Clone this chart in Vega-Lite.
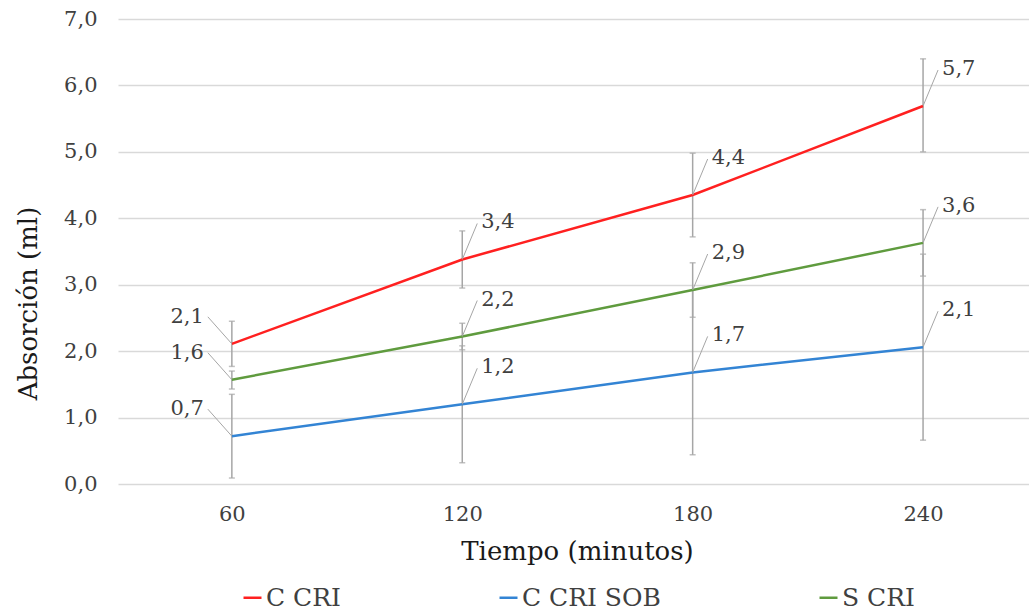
{
  "$schema": "https://vega.github.io/schema/vega-lite/v6.json",
  "width": 911,
  "height": 465,
  "autosize": {"type": "none"},
  "padding": {"left": 118, "top": 19, "right": 0, "bottom": 130},
  "background": "white",
  "config": {
    "font": "DejaVu Serif",
    "view": {"stroke": null},
    "axis": {"labelFont": "DejaVu Serif", "titleFont": "DejaVu Serif", "labelColor": "#404040", "titleColor": "#1a1a1a", "titleFontWeight": "normal"},
    "legend": {"labelFont": "DejaVu Serif"}
  },
  "data": {
    "values": [
      {"Serie": "C CRI", "Tiempo": "60", "Valor": 2.11, "Inf": 1.77, "Sup": 2.45, "Etiqueta": "2,1"},
      {"Serie": "C CRI", "Tiempo": "120", "Valor": 3.38, "Inf": 2.95, "Sup": 3.81, "Etiqueta": "3,4"},
      {"Serie": "C CRI", "Tiempo": "180", "Valor": 4.35, "Inf": 3.72, "Sup": 4.98, "Etiqueta": "4,4"},
      {"Serie": "C CRI", "Tiempo": "240", "Valor": 5.69, "Inf": 5.0, "Sup": 6.4, "Etiqueta": "5,7"},
      {"Serie": "C CRI SOB", "Tiempo": "60", "Valor": 0.72, "Inf": 0.09, "Sup": 1.35, "Etiqueta": "0,7"},
      {"Serie": "C CRI SOB", "Tiempo": "120", "Valor": 1.2, "Inf": 0.32, "Sup": 2.08, "Etiqueta": "1,2"},
      {"Serie": "C CRI SOB", "Tiempo": "180", "Valor": 1.68, "Inf": 0.44, "Sup": 2.92, "Etiqueta": "1,7"},
      {"Serie": "C CRI SOB", "Tiempo": "240", "Valor": 2.06, "Inf": 0.66, "Sup": 3.46, "Etiqueta": "2,1"},
      {"Serie": "S CRI", "Tiempo": "60", "Valor": 1.57, "Inf": 1.43, "Sup": 1.7, "Etiqueta": "1,6"},
      {"Serie": "S CRI", "Tiempo": "120", "Valor": 2.22, "Inf": 2.02, "Sup": 2.42, "Etiqueta": "2,2"},
      {"Serie": "S CRI", "Tiempo": "180", "Valor": 2.92, "Inf": 2.51, "Sup": 3.33, "Etiqueta": "2,9"},
      {"Serie": "S CRI", "Tiempo": "240", "Valor": 3.63, "Inf": 3.13, "Sup": 4.13, "Etiqueta": "3,6"}
    ]
  },
  "encoding": {
    "x": {
      "field": "Tiempo", "type": "ordinal", "sort": ["60", "120", "180", "240"],
      "scale": {"type": "point", "padding": 0.477, "align": 0.518},
      "axis": {
        "title": "Tiempo (minutos)", "labelAngle": 0, "domain": false, "ticks": false, "grid": false,
        "labelFontSize": 21, "labelPadding": 19,
        "titleFontSize": 26, "titleX": 459, "titleY": 67, "titleBaseline": "middle", "titleAlign": "center"
      }
    }
  },
  "layer": [
    {
      "mark": {"type": "rule", "color": "#a6a6a6", "strokeWidth": 1.5},
      "encoding": {
        "y": {
          "field": "Inf", "type": "quantitative",
          "scale": {"domain": [0, 7]},
          "axis": {
            "title": "Absorción (ml)", "values": [0, 1, 2, 3, 4, 5, 6, 7],
            "labelExpr": "replace(format(datum.value, '.1f'), '.', ',')",
            "domain": false, "ticks": false, "gridColor": "#d9d9d9", "gridWidth": 1.5,
            "labelFontSize": 21, "labelPadding": 21,
            "titleFontSize": 26, "titleAngle": 270, "titleX": -90, "titleY": 284, "titleBaseline": "middle", "titleAlign": "center"
          }
        },
        "y2": {"field": "Sup"}
      }
    },
    {
      "mark": {"type": "tick", "color": "#a6a6a6", "size": 6, "thickness": 1.5},
      "encoding": {"y": {"field": "Inf", "type": "quantitative"}}
    },
    {
      "mark": {"type": "tick", "color": "#a6a6a6", "size": 6, "thickness": 1.5},
      "encoding": {"y": {"field": "Sup", "type": "quantitative"}}
    },
    {
      "mark": {"type": "line", "strokeWidth": 2.5},
      "encoding": {
        "y": {"field": "Valor", "type": "quantitative"},
        "color": {
          "field": "Serie", "type": "nominal",
          "scale": {"domain": ["C CRI", "C CRI SOB", "S CRI"], "range": ["#ff2020", "#3384d4", "#5f9b3e"]},
          "legend": {
            "title": null, "orient": "none", "direction": "horizontal", "legendX": 122, "legendY": 566,
            "symbolType": "stroke", "symbolSize": 324, "symbolStrokeWidth": 2.5,
            "labelFontSize": 25, "labelColor": "#404040", "labelOffset": 1, "columnPadding": 153, "padding": 0
          }
        }
      }
    },
    {
      "transform": [{"filter": "datum.Tiempo == '60'"}],
      "mark": {"type": "rule", "color": "#a6a6a6", "strokeWidth": 1, "x2Offset": -24, "y2Offset": -27},
      "encoding": {"y": {"field": "Valor", "type": "quantitative"}, "x2": {"field": "Tiempo"}, "y2": {"field": "Valor"}}
    },
    {
      "transform": [{"filter": "datum.Tiempo != '60'"}],
      "mark": {"type": "rule", "color": "#a6a6a6", "strokeWidth": 1, "x2Offset": 15, "y2Offset": -36},
      "encoding": {"y": {"field": "Valor", "type": "quantitative"}, "x2": {"field": "Tiempo"}, "y2": {"field": "Valor"}}
    },
    {
      "transform": [{"filter": "datum.Tiempo == '60'"}],
      "mark": {"type": "text", "align": "right", "baseline": "middle", "dx": -28, "dy": -27, "fontSize": 21, "color": "#404040"},
      "encoding": {"y": {"field": "Valor", "type": "quantitative"}, "text": {"field": "Etiqueta"}}
    },
    {
      "transform": [{"filter": "datum.Tiempo != '60'"}],
      "mark": {"type": "text", "align": "left", "baseline": "middle", "dx": 19, "dy": -37, "fontSize": 21, "color": "#404040"},
      "encoding": {"y": {"field": "Valor", "type": "quantitative"}, "text": {"field": "Etiqueta"}}
    }
  ]
}
